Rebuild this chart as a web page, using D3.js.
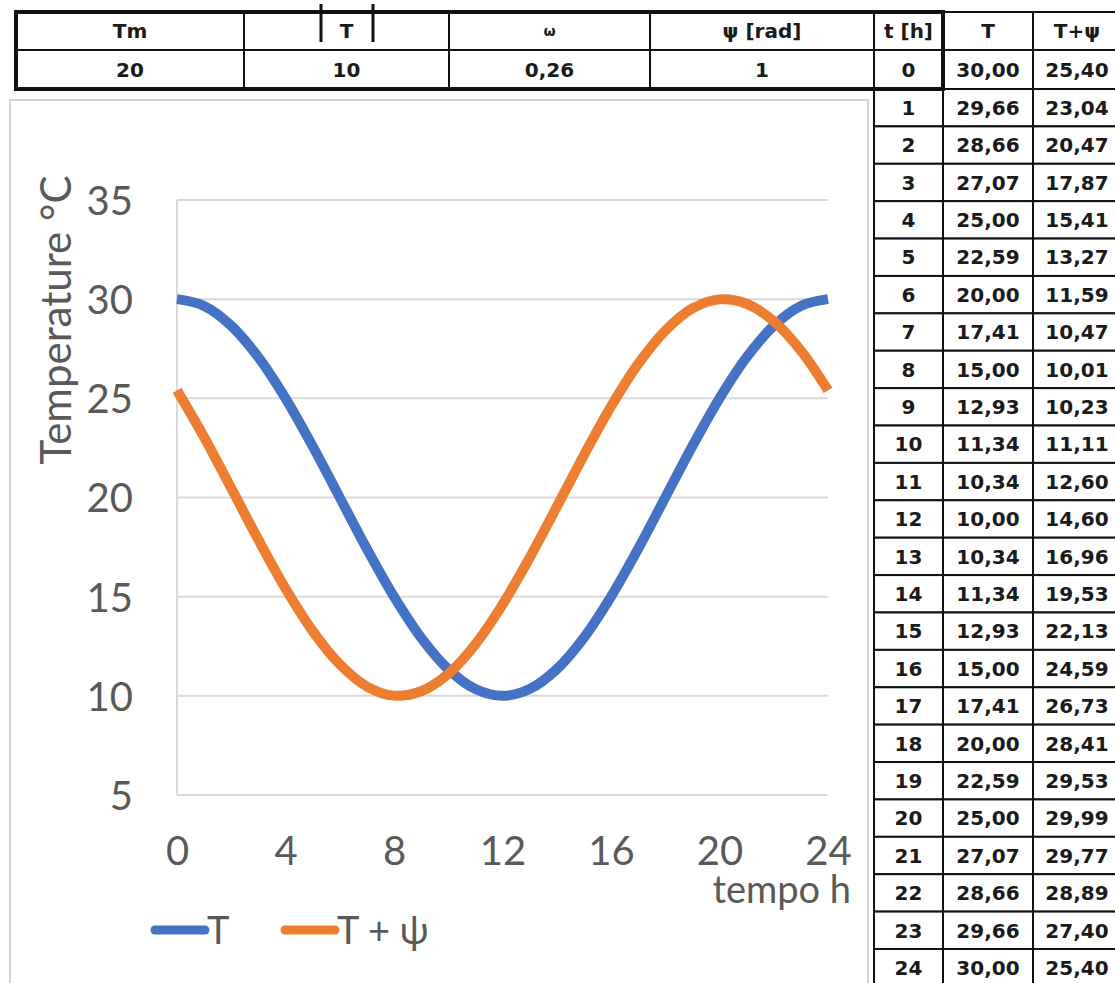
<!DOCTYPE html>
<html>
<head>
<meta charset="utf-8">
<script src="https://cdn.jsdelivr.net/npm/d3@7"></script>
<style>
    body { margin: 0; background: #fff; }
    svg text { font-family: Lato, "Open Sans", sans-serif; }
    .cell text { font-family: "DejaVu Sans", sans-serif; font-weight: bold; font-size: 20px; fill: #1a1a1a; }
    .grid line { stroke: #d9d9d9; stroke-width: 2; }
    .axis text { font-size: 40px; fill: #595959; }
</style>
</head>
<body>
<svg id="chart" width="1115" height="983"></svg>
<script>
"use strict";

// Data read from the spreadsheet.
const hours = [0, 1, 2, 3, 4, 5, 6, 7, 8, 9, 10, 11, 12, 13, 14, 15, 16, 17, 18, 19, 20, 21, 22, 23, 24];
const seriesT = [30.00, 29.66, 28.66, 27.07, 25.00, 22.59, 20.00, 17.41, 15.00, 12.93, 11.34, 10.34, 10.00,
    10.34, 11.34, 12.93, 15.00, 17.41, 20.00, 22.59, 25.00, 27.07, 28.66, 29.66, 30.00];
const seriesTPsi = [25.40, 23.04, 20.47, 17.87, 15.41, 13.27, 11.59, 10.47, 10.01, 10.23, 11.11, 12.60, 14.60,
    16.96, 19.53, 22.13, 24.59, 26.73, 28.41, 29.53, 29.99, 29.77, 28.89, 27.40, 25.40];
const paramHeaders = ["Tm", "T", "ω", "ψ [rad]"];
const paramValues = ["20", "10", "0,26", "1"];
const tableHeaders = ["t [h]", "T", "T+ψ"];
const xTicks = [0, 4, 8, 12, 16, 20, 24];
const yTicks = [5, 10, 15, 20, 25, 30, 35];
const seriesNames = ["T", "T + ψ"];
const seriesColors = ["#4472C4", "#ED7D31"];

// Layout.
const PARAM_COL_EDGES = [16, 244, 449, 650, 874];
const TABLE_COL_EDGES = [874, 943, 1033, 1121];
const HEADER_TOP = 12;
const ROW0_TOP = 50;
const ROW1_TOP = 89;
const ROW24_TOP = 949;
const ROW_HEIGHT = (ROW24_TOP - ROW1_TOP) / 23;
const PLOT = {left: 177, right: 828, top: 200, bottom: 795};
const LINE_WIDTH = 10;

const svg = d3.select("#chart");

const fmt = v => v.toFixed(2).replace(".", ",");

/**
 * Top edge of a row of the right hand table (-1 is the header).
 */
function rowTop(i) {
    if (i < 0) return HEADER_TOP;
    if (i === 0) return ROW0_TOP;
    return ROW1_TOP + (i - 1) * ROW_HEIGHT;
}

function rowBottom(i) {
    return i === 0 ? ROW1_TOP : rowTop(i) + (i < 0 ? ROW0_TOP - HEADER_TOP : ROW_HEIGHT);
}

/**
 * Draws the chart frame, grid, axes, series and legend.
 */
function drawChart() {
    svg.append("rect")
        .attr("x", 10).attr("y", 100)
        .attr("width", 858).attr("height", 900)
        .attr("fill", "#fff")
        .attr("stroke", "#d4d4d4")
        .attr("stroke-width", 2);

    let x = d3.scaleLinear().domain([0, 24]).range([PLOT.left, PLOT.right]);
    let y = d3.scaleLinear().domain([5, 35]).range([PLOT.bottom, PLOT.top]);

    // Horizontal grid lines and the vertical axis line.
    let grid = svg.append("g").attr("class", "grid");
    grid.selectAll("line.h")
        .data(yTicks)
        .enter().append("line")
        .attr("class", "h")
        .attr("x1", PLOT.left).attr("x2", PLOT.right)
        .attr("y1", d => y(d)).attr("y2", d => y(d));
    grid.append("line")
        .attr("x1", PLOT.left).attr("x2", PLOT.left)
        .attr("y1", PLOT.top).attr("y2", PLOT.bottom);

    let yAxis = svg.append("g")
        .attr("class", "axis")
        .attr("transform", "translate(" + PLOT.left + ",0)")
        .call(d3.axisLeft(y).tickValues(yTicks).tickSize(0).tickPadding(44));
    yAxis.select(".domain").remove();
    yAxis.selectAll("text").attr("dy", "0.36em");

    let xAxis = svg.append("g")
        .attr("class", "axis")
        .attr("transform", "translate(0," + PLOT.bottom + ")")
        .call(d3.axisBottom(x).tickValues(xTicks).tickSize(0).tickPadding(42));
    xAxis.select(".domain").remove();

    svg.append("text")
        .attr("transform", "translate(56,320) rotate(-90)")
        .attr("text-anchor", "middle")
        .attr("dy", "0.36em")
        .style("font-size", "42px")
        .style("fill", "#595959")
        .text("Temperature °C");

    svg.append("text")
        .attr("x", 851).attr("y", 889)
        .attr("text-anchor", "end")
        .attr("dy", "0.36em")
        .style("font-size", "38px")
        .style("fill", "#595959")
        .text("tempo h");

    // The two series as smoothed lines.
    let line = d3.line()
        .x((d, i) => x(hours[i]))
        .y(d => y(d))
        .curve(d3.curveCatmullRom.alpha(0.5));
    [seriesT, seriesTPsi].forEach(function (values, k) {
        svg.append("path")
            .datum(values)
            .attr("d", line)
            .attr("fill", "none")
            .attr("stroke", seriesColors[k])
            .attr("stroke-width", LINE_WIDTH);
    });

    // Legend.
    let legendX = [155, 285];
    seriesNames.forEach(function (name, k) {
        let item = svg.append("g").attr("transform", "translate(" + legendX[k] + ",930)");
        item.append("line")
            .attr("x1", 0).attr("x2", 50)
            .attr("stroke", seriesColors[k])
            .attr("stroke-width", 9)
            .attr("stroke-linecap", "round");
        item.append("text")
            .attr("x", 52)
            .attr("dy", "0.36em")
            .style("font-size", "38px")
            .style("fill", "#595959")
            .text(name);
    });
}

/**
 * Draws one bordered text cell.
 */
function drawCell(parent, x0, x1, y0, y1, label, fontSize) {
    let cell = parent.append("g").attr("class", "cell");
    cell.append("rect")
        .attr("x", x0).attr("y", y0)
        .attr("width", x1 - x0).attr("height", y1 - y0)
        .attr("fill", "#fff")
        .attr("stroke", "#111")
        .attr("stroke-width", 2);
    let t = cell.append("text")
        .attr("x", (x0 + x1) / 2)
        .attr("y", (y0 + y1) / 2)
        .attr("dy", "0.36em")
        .attr("text-anchor", "middle")
        .text(label);
    if (fontSize) {
        t.style("font-size", fontSize + "px");
    }
    return cell;
}

/**
 * Draws the parameter table at the top and the value table on the right.
 */
function drawTables() {
    let tables = svg.append("g");

    // Parameter table.
    paramHeaders.forEach(function (h, i) {
        drawCell(tables, PARAM_COL_EDGES[i], PARAM_COL_EDGES[i + 1], HEADER_TOP, ROW0_TOP, h, h === "ω" ? 14 : null);
        drawCell(tables, PARAM_COL_EDGES[i], PARAM_COL_EDGES[i + 1], ROW0_TOP, ROW1_TOP, paramValues[i]);
    });

    // Value table.
    for (let r = -1; r < hours.length; r++) {
        let labels = r < 0 ? tableHeaders : [String(hours[r]), fmt(seriesT[r]), fmt(seriesTPsi[r])];
        labels.forEach(function (label, c) {
            drawCell(tables, TABLE_COL_EDGES[c], TABLE_COL_EDGES[c + 1], rowTop(r), rowBottom(r), label);
        });
    }

    // Thick frame round the parameter block.
    tables.append("rect")
        .attr("x", PARAM_COL_EDGES[0]).attr("y", HEADER_TOP)
        .attr("width", TABLE_COL_EDGES[1] - PARAM_COL_EDGES[0])
        .attr("height", ROW1_TOP - HEADER_TOP)
        .attr("fill", "none")
        .attr("stroke", "#111")
        .attr("stroke-width", 4);

    // Stray marks either side of the "T" header.
    [321, 373].forEach(function (xm) {
        tables.append("line")
            .attr("x1", xm).attr("x2", xm)
            .attr("y1", 4).attr("y2", 42)
            .attr("stroke", "#111")
            .attr("stroke-width", 3);
    });
}

drawChart();
drawTables();
</script>
</body>
</html>
